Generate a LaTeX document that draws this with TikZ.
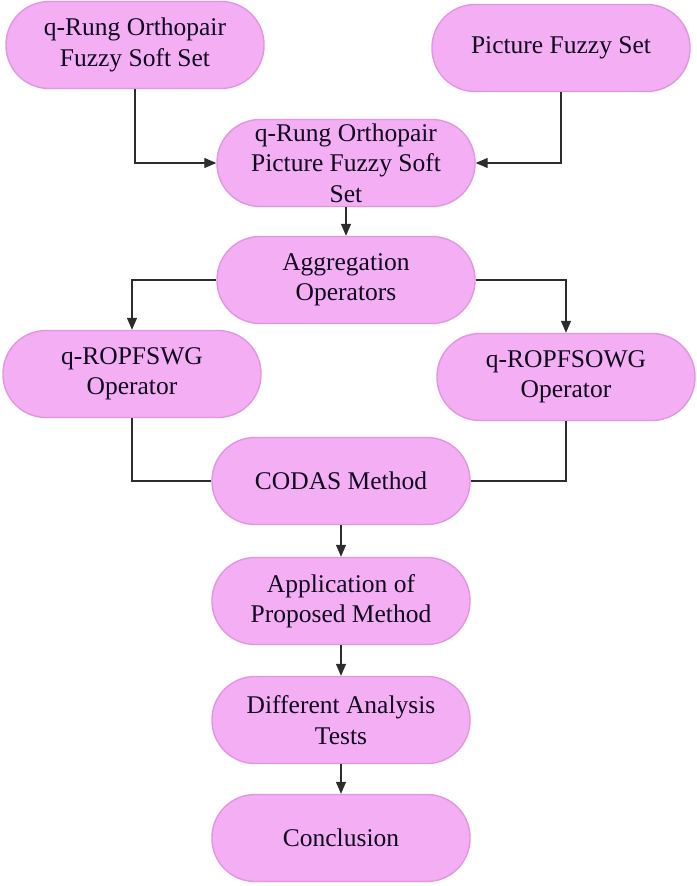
\documentclass[tikz,border=0pt]{standalone}
\usepackage{fontspec}
\setmainfont{Liberation Serif}
\usetikzlibrary{arrows.meta}
\definecolor{boxfill}{RGB}{244,174,244}
\definecolor{boxedge}{RGB}{226,150,226}
\definecolor{txt}{RGB}{15,8,30}
\definecolor{linec}{RGB}{45,45,45}
\tikzset{
  pill/.style={rectangle, rounded corners=43pt, minimum width=258pt, minimum height=87pt,
    fill=boxfill, draw=boxedge, line width=1.4pt, text=txt, align=center,
    font=\fontsize{25.5}{30.5}\selectfont, inner sep=1pt},
  conn/.style={draw=linec, line width=1.3pt},
  arr/.style={conn, -{Triangle[length=12pt,width=10pt]}}
}
\begin{document}
\begin{tikzpicture}[x=1pt,y=-1pt]
\useasboundingbox (0,0) rectangle (696,886);
\node[pill] (n1) at (135,45) {q-Rung Orthopair\\Fuzzy Soft Set};
\node[pill] (n2) at (561,48) {Picture Fuzzy Set};
\node[pill] (n3) at (346,163) {q-Rung Orthopair\\Picture Fuzzy Soft\\Set};
\node[pill] (n4) at (346,280) {Aggregation\\Operators};
\node[pill] (n5) at (132,374) {q-ROPFSWG\\Operator};
\node[pill] (n6) at (566,377) {q-ROPFSOWG\\Operator};
\node[pill] (n7) at (341,481) {CODAS Method};
\node[pill] (n8) at (341,601) {Application of\\Proposed Method};
\node[pill] (n9) at (341,720) {Different Analysis\\Tests};
\node[pill] (n10) at (341,838) {Conclusion};
\draw[arr] (n1.south) |- (n3.west);
\draw[arr] (n2.south) |- (n3.east);
\draw[arr] (n3.south) -- (n4.north);
\draw[arr] (n4.west) -| (n5.north);
\draw[arr] (n4.east) -| (n6.north);
\draw[conn] (n5.south) |- (n7.west);
\draw[conn] (n6.south) |- (n7.east);
\draw[arr] (n7.south) -- (n8.north);
\draw[arr] (n8.south) -- (n9.north);
\draw[arr] (n9.south) -- (n10.north);
\end{tikzpicture}
\end{document}
